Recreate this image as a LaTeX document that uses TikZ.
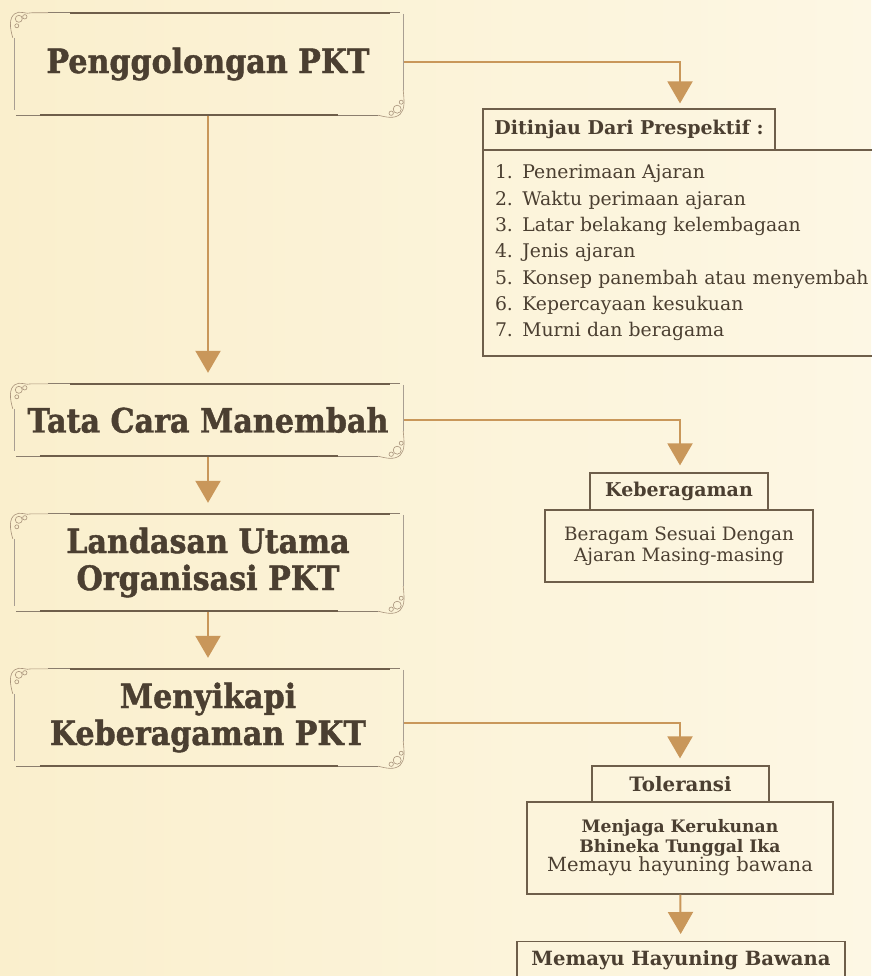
\documentclass[tikz,border=0pt]{standalone}
\usepackage{fontspec}
\setmainfont{DejaVu Serif}
\newfontfamily\headfamily[FakeStretch=0.9, FakeBold=1.3]{DejaVu Serif}
\usetikzlibrary{arrows.meta,calc}
\definecolor{bgA}{HTML}{FAEFCD}
\definecolor{bgB}{HTML}{FDF7E4}
\definecolor{ink}{HTML}{4B3F31}
\definecolor{tanc}{HTML}{C9975A}
\definecolor{edgec}{HTML}{6E5E4A}
\definecolor{ornc}{HTML}{A8927A}
\newcommand{\fHead}{\headfamily\bfseries\fontsize{33.5}{37}\selectfont}
\newcommand{\fHdr}{\bfseries\fontsize{19}{22}\selectfont}
\newcommand{\fList}{\fontsize{18.8}{26.3}\selectfont}
\newcommand{\fBody}{\fontsize{18.4}{21}\selectfont}
\tikzset{
  mainbox/.style={draw=none, minimum width=392pt, inner sep=0pt, text=ink, font=\fHead, align=center},
  hdrbox/.style={draw=edgec, line width=1.2pt, text=ink, font=\fHdr, inner sep=0pt, align=center},
  bodybox/.style={draw=edgec, line width=1.2pt, text=ink, font=\fBody, inner sep=0pt, align=center},
  flow/.style={draw=tanc, line width=2.2pt, -{Triangle[width=25pt,length=22pt]}, shorten >=10pt},
  flowside/.style={draw=tanc, line width=2pt, -{Triangle[width=25pt,length=22pt]}, shorten >=7pt},
  thinframe/.style={draw=edgec!80, line width=0.7pt},
  thickframe/.style={draw=edgec, line width=2.2pt},
  sideframe/.style={draw=edgec!60, line width=0.6pt},
  ornline/.style={draw=ornc, line width=0.6pt},
}
\begin{document}
\begin{tikzpicture}[x=1pt,y=-1pt]
\useasboundingbox (0,0) rectangle (871,976);
\shade[left color=bgA, right color=bgB] (0,0) rectangle (871,976);

% main left boxes
\node[mainbox, minimum height=104pt] (b1) at (208,64) {Penggolongan PKT};
\node[mainbox, minimum height=74pt] (b2) at (208,420) {Tata Cara Manembah};
\node[mainbox, minimum height=99pt] (b3) at (208,562.5) {Landasan Utama\\Organisasi PKT};
\node[mainbox, minimum height=99pt] (b4) at (208,717.5) {Menyikapi\\Keberagaman PKT};

% ornamental frames
\foreach \n in {b1,b2,b3,b4}{
  \coordinate (NW) at (\n.north west);
  \coordinate (NE) at (\n.north east);
  \coordinate (SW) at (\n.south west);
  \coordinate (SE) at (\n.south east);
  \draw[thinframe] ($(NW)+(36,1)$) -- ($(NE)+(-4,1)$);
  \draw[thickframe] ($(NW)+(58,1)$) -- ($(NE)+(-14,1)$);
  \draw[thinframe] ($(SW)+(4,-1)$) -- ($(SE)+(-26,-1)$);
  \draw[thickframe] ($(SW)+(28,-1)$) -- ($(SE)+(-66,-1)$);
  \draw[sideframe] ($(NW)+(2,26)$) -- ($(SW)+(2,-6)$);
  \draw[sideframe] ($(NE)+(-1,2)$) -- ($(SE)+(-1,-26)$);
  % top-left ornament
  \draw[ornline] ($(NW)+(1,26)$) .. controls ($(NW)+(-2,16)$) and ($(NW)+(-3,6)$) .. ($(NW)+(3,2)$)
        .. controls ($(NW)+(8,-2)$) and ($(NW)+(14,3)$) .. ($(NW)+(20,1)$) -- ($(NW)+(36,1)$);
  \draw[ornline] ($(NW)+(7,7)$) circle[radius=3.5pt];
  \draw[ornline] ($(NW)+(13,5)$) circle[radius=2.2pt];
  \draw[ornline] ($(NW)+(5,14)$) circle[radius=2pt];
  % bottom-right ornament
  \draw[ornline] ($(SE)+(-26,-1)$) .. controls ($(SE)+(-18,1)$) and ($(SE)+(-10,3)$) .. ($(SE)+(-4,-2)$)
        .. controls ($(SE)+(1,-7)$) and ($(SE)+(0,-16)$) .. ($(SE)+(-1,-26)$);
  \draw[ornline] ($(SE)+(-7,-7)$) circle[radius=4pt];
  \draw[ornline] ($(SE)+(-13,-3)$) circle[radius=2.2pt];
  \draw[ornline] ($(SE)+(-3,-14)$) circle[radius=2pt];
}

% right side boxes
\node[hdrbox, minimum width=292pt, minimum height=41pt] (h1) at (629,129.5) {Ditinjau Dari Prespektif :};
\node[bodybox, minimum width=402pt, minimum height=206pt, text width=378pt, align=left, font=\fList] (d1) at (684,253)
  {1. Penerimaan Ajaran\\2. Waktu perimaan ajaran\\3. Latar belakang kelembagaan\\4. Jenis ajaran\\5. Konsep panembah atau menyembah\\6. Kepercayaan kesukuan\\7. Murni dan beragama};

\node[hdrbox, minimum width=178pt, minimum height=37pt, font=\bfseries\fontsize{19}{22}\selectfont] (k1) at (679,491.5) {Keberagaman};
\node[bodybox, minimum width=268pt, minimum height=72pt] (k2) at (679,546) {Beragam Sesuai Dengan\\Ajaran Masing-masing};

\node[hdrbox, minimum width=177pt, minimum height=36pt, font=\bfseries\fontsize{19.8}{22}\selectfont] (t1) at (680.5,784) {Toleransi};
\node[bodybox, minimum width=306pt, minimum height=92pt, font=\fontsize{17.2}{19.5}\selectfont] (t2) at (680,848)
  {\textbf{Menjaga Kerukunan}\\\textbf{Bhineka Tunggal Ika}\\{\fontsize{19.5}{19.5}\selectfont Memayu hayuning bawana}};
\node[hdrbox, anchor=north, minimum width=328pt, inner ysep=10pt, text height=14pt, text depth=40pt,
  font=\bfseries\fontsize{19.6}{22}\selectfont] (m1) at (681,941) {Memayu Hayuning Bawana};

\coordinate (cx) at (680,0);

% connectors
\draw[flow] (b1) -- (b2);
\draw[flow] (b2) -- (b3);
\draw[flow] (b3) -- (b4);
\draw[flowside, shorten >=5pt] ([yshift=2pt]b1.east) -| (h1.north -| cx);
\draw[flowside] (b2.east) -| (k1.north -| cx);
\draw[flowside] ([yshift=-5pt]b4.east) -| (t1.north -| cx);
\draw[flowside] (t2) -- (m1);
\end{tikzpicture}
\end{document}
